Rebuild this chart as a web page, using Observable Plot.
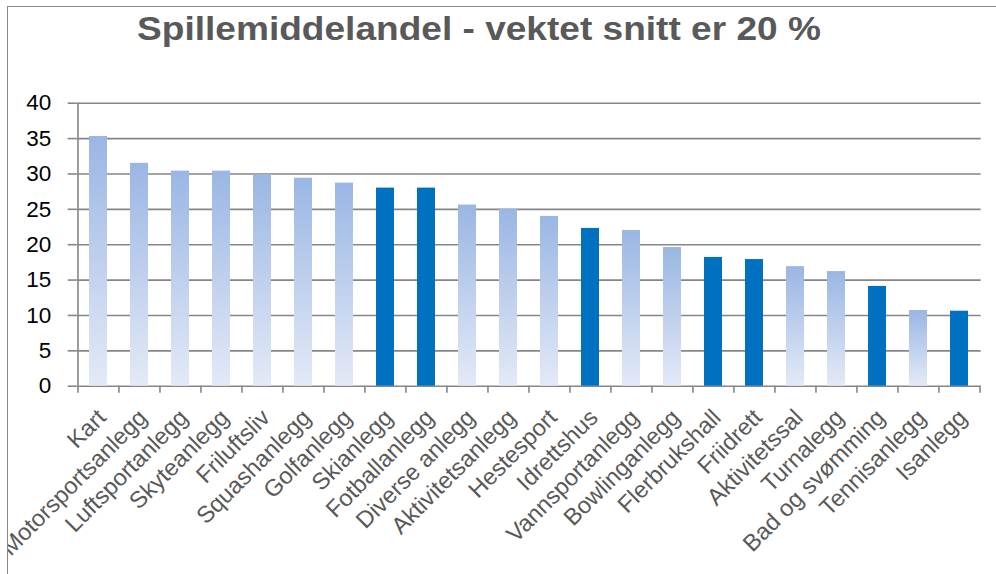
<!DOCTYPE html>
<html>
<head>
<meta charset="utf-8">
<script src="https://cdn.jsdelivr.net/npm/d3@7"></script>
<script src="https://cdn.jsdelivr.net/npm/@observablehq/plot@0.6"></script>
<style>
  body { margin: 0; background: #fff; }
  #wrap { position: relative; width: 996px; height: 574px; overflow: hidden; background: #fff;
          font-family: "Liberation Sans", Arial, sans-serif; }
  #chart { position: absolute; left: 0; top: 0; }
  #mask { position: absolute; left: 0; top: 0; width: 7px; height: 574px; background: #fff; }
  #frame { position: absolute; left: 7px; top: 6px; width: 1200px; height: 800px;
           border-left: 1.5px solid #8a8a8a; border-top: 1.5px solid #8a8a8a; }
  #title { position: absolute; left: 0; top: 11px; width: 958px; text-align: center;
           font-size: 34px; line-height: 34px; font-weight: bold; color: #595959;
           white-space: nowrap; transform: scaleX(1.09); }
</style>
</head>
<body>
<div id="wrap">
  <div id="chart"></div>
  <div id="mask"></div>
  <div id="frame"></div>
  <div id="title">Spillemiddelandel - vektet snitt er 20 %</div>
</div>
<script>
const categories = ["Kart", "Motorsportsanlegg", "Luftsportanlegg", "Skyteanlegg", "Friluftsliv",
  "Squashanlegg", "Golfanlegg", "Skianlegg", "Fotballanlegg", "Diverse anlegg", "Aktivitetsanlegg",
  "Hestesport", "Idrettshus", "Vannsportanlegg", "Bowlinganlegg", "Flerbrukshall", "Friidrett",
  "Aktivitetssal", "Turnalegg", "Bad og svømming", "Tennisanlegg", "Isanlegg"];
const values = [35.3, 31.5, 30.4, 30.4, 29.9, 29.4, 28.7, 28.0, 28.0, 25.6, 25.0,
  24.0, 22.3, 22.0, 19.6, 18.2, 17.9, 16.9, 16.2, 14.1, 10.7, 10.6];
const highlighted = ["Skianlegg", "Fotballanlegg", "Idrettshus", "Flerbrukshall", "Friidrett",
  "Bad og svømming", "Isanlegg"];
const yTicks = [0, 5, 10, 15, 20, 25, 30, 35, 40];

const data = categories.map((name, i) => ({name, value: values[i], solid: highlighted.includes(name)}));

const W = 996, H = 574;
const mTop = 102.7, mBottom = 188.3, mLeft = 76.7, mRight = 15.3;
const step = (W - mLeft - mRight) / categories.length;
const gridColor = "#868686";

const svg = Plot.plot({
  width: W,
  height: H,
  marginTop: mTop,
  marginBottom: mBottom,
  marginLeft: mLeft,
  marginRight: mRight,
  style: {fontFamily: "'Liberation Sans', Arial, sans-serif", fontSize: "22px", color: "#000",
          background: "transparent", overflow: "visible"},
  x: {domain: categories, paddingInner: 0.56, paddingOuter: 0.28, axis: null},
  y: {domain: [0, 40], axis: null},
  marks: [
    Plot.ruleY(yTicks, {stroke: gridColor, strokeWidth: 1.6}),
    Plot.axisY({ticks: yTicks, tickSize: 9, tickPadding: 17, stroke: gridColor, strokeWidth: 1.6,
                fill: "#000", fontSize: 22.5, label: null, tickFormat: d => String(d)}),
    Plot.ruleX([categories[0]], {y1: 0, y2: 40, dx: -step / 2, stroke: gridColor, strokeWidth: 1.6}),
    Plot.ruleX(categories, {x: d => d, y1: 0, y2: 0, insetBottom: -7, dx: -step / 2,
                            stroke: gridColor, strokeWidth: 1.6}),
    Plot.ruleX([categories[categories.length - 1]], {y1: 0, y2: 0, insetBottom: -7, dx: step / 2,
                            stroke: gridColor, strokeWidth: 1.6}),
    Plot.barY(data.filter(d => !d.solid), {x: "name", y: "value", fill: "url(#barGrad)"}),
    Plot.barY(data.filter(d => d.solid), {x: "name", y: "value", fill: "#0070C0"}),
    Plot.text(data, {x: "name", frameAnchor: "bottom", text: "name", rotate: -45,
                     textAnchor: "end", lineAnchor: "top", dx: -3, dy: 21,
                     fontSize: 23.5, fill: "#595959"})
  ]
});

const defs = d3.select(svg).insert("defs", ":first-child");
const grad = defs.append("linearGradient").attr("id", "barGrad")
  .attr("x1", 0).attr("y1", 0).attr("x2", 0).attr("y2", 1);
grad.append("stop").attr("offset", "0%").attr("stop-color", "#9AB6E4");
grad.append("stop").attr("offset", "50%").attr("stop-color", "#BFD0ED");
grad.append("stop").attr("offset", "100%").attr("stop-color", "#E3EAF7");

document.getElementById("chart").appendChild(svg);
</script>
</body>
</html>
